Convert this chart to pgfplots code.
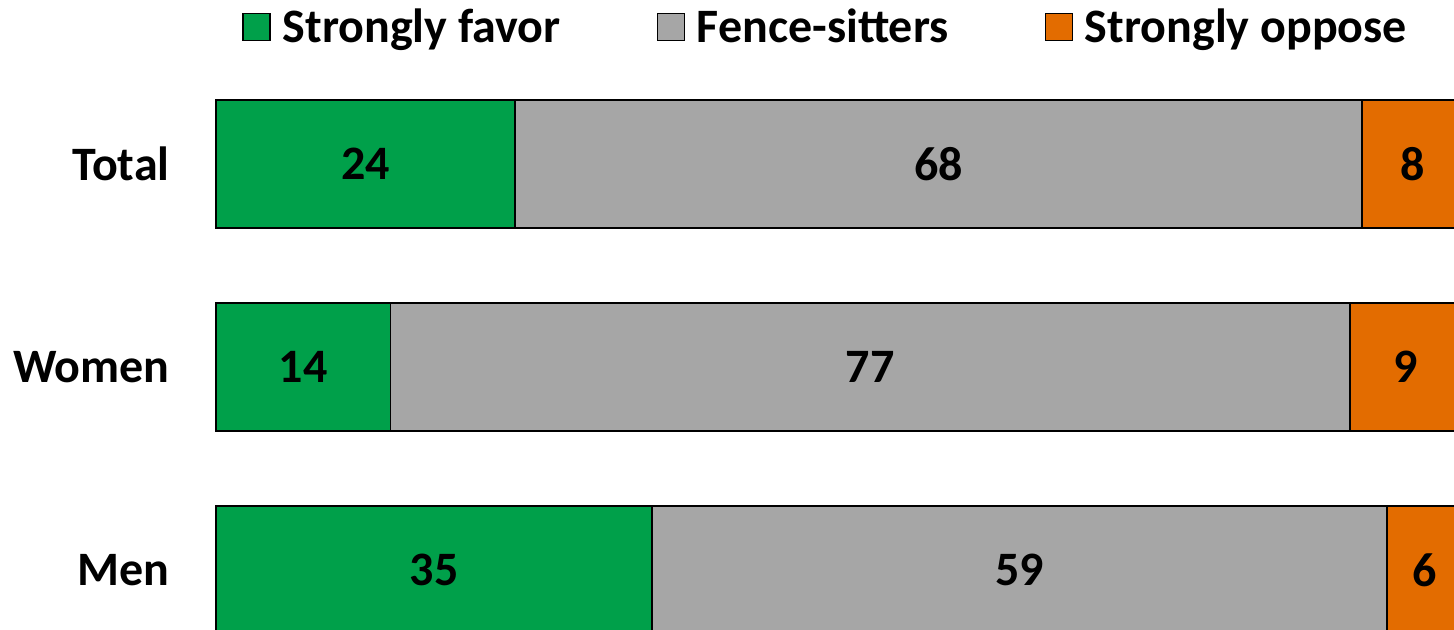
\documentclass[border=0pt]{standalone}
\usepackage{pgfplots}
\pgfplotsset{compat=1.18}
\usepackage{fontspec}
\setmainfont{Carlito}
\definecolor{favor}{HTML}{00A04A}
\definecolor{fence}{HTML}{A6A6A6}
\definecolor{oppose}{HTML}{E36C00}
\begin{document}
\begin{tikzpicture}[font=\fontsize{24}{28}\selectfont\bfseries]
\begin{axis}[
  at={(0,0)}, anchor=south west,
  xbar stacked, bar width=64pt,
  x=6.23pt, y=101.5pt,
  xmin=0, xmax=100, ymin=-0.2956, ymax=2.8079,
  clip=false,
  axis line style={draw=none}, major tick length=0pt,
  xtick=\empty, ytick={0,1,2}, yticklabels={Men,Women,Total},
  yticklabel style={anchor=east, inner sep=0pt, xshift=-23pt},
  /pgf/number format/assume math mode=true,
  nodes near coords, point meta=rawx,
  every node near coord/.append style={anchor=center, font=\fontsize{24}{28}\selectfont\bfseries},
  legend columns=-1,
  legend style={at={(0.4885,0.957)}, anchor=center, draw=none, fill=none,
    nodes={inner xsep=0pt},
    /tikz/every odd column/.append style={column sep=6pt},
    /tikz/every even column/.append style={column sep=48pt}},
  legend image code/.code={\draw[#1, draw=black, line width=0.6pt] (0pt,-6.75pt) rectangle (13.5pt,6.75pt);},
]
\addplot[fill=favor, draw=black, line width=0.9pt] coordinates {(35,0) (14,1) (24,2)};
\addplot[fill=fence, draw=black, line width=0.9pt] coordinates {(59,0) (77,1) (68,2)};
\addplot[fill=oppose, draw=black, line width=0.9pt] coordinates {(6,0) (9,1) (8,2)};
\legend{Strongly favor, Fence-sitters, Strongly oppose}
\end{axis}
\pgfresetboundingbox
\path[use as bounding box] (-108pt,0pt) rectangle (619pt,315pt);
\end{tikzpicture}
\end{document}
